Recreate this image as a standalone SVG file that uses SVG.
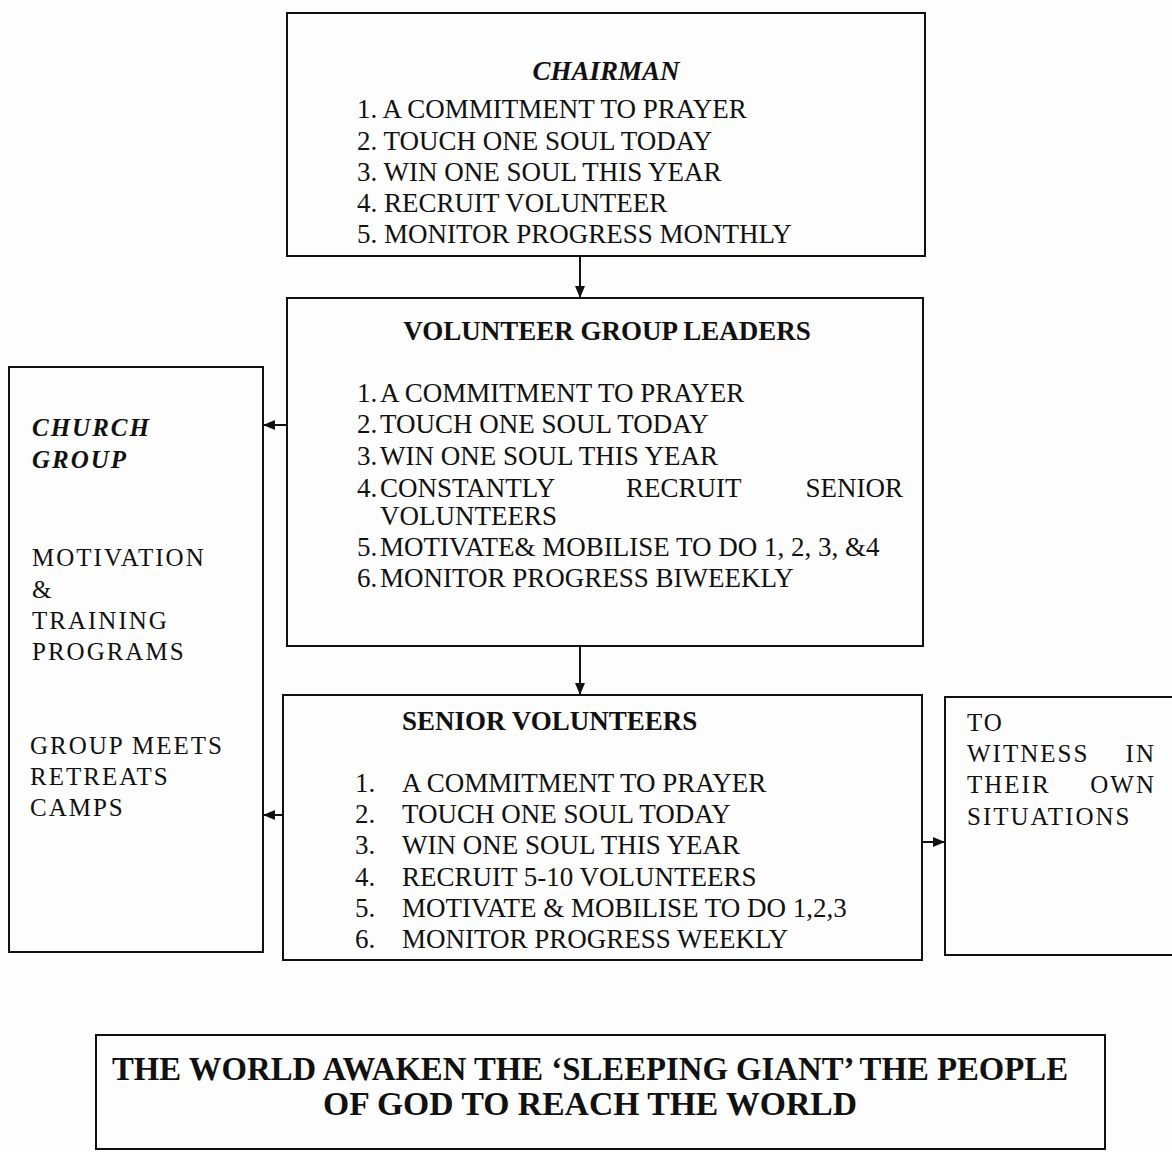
<svg xmlns="http://www.w3.org/2000/svg" width="1172" height="1152" viewBox="0 0 1172 1152">
<style>
.box{fill:none;stroke:#111;stroke-width:2}
.t{font-family:"Liberation Serif","Times New Roman",serif;font-size:27px;fill:#111}
.b{font-weight:bold}
.i{font-style:italic}
.w{font-family:"Liberation Serif","Times New Roman",serif;font-size:25px;fill:#111;letter-spacing:2px}
.big{font-family:"Liberation Serif","Times New Roman",serif;font-size:34px;font-weight:bold;fill:#111}
.conn{stroke:#111;stroke-width:2;fill:none}
</style>
<defs>
<marker id="ah" viewBox="0 0 12 10" refX="12" refY="5" markerWidth="12" markerHeight="10" markerUnits="userSpaceOnUse" orient="auto">
<path d="M0,0 L12,5 L0,10 Z" fill="#111"/>
</marker>
</defs>
<rect width="1172" height="1152" fill="#fdfdfd"/>
<g id="chairman">
<rect class="box" x="287" y="13" width="638" height="243"/>
<text class="t b i" x="606" y="80" text-anchor="middle">CHAIRMAN</text>
<text class="t" x="357" y="118">1. A COMMITMENT TO PRAYER</text>
<text class="t" x="357" y="150">2. TOUCH ONE SOUL TODAY</text>
<text class="t" x="357" y="181">3. WIN ONE SOUL THIS YEAR</text>
<text class="t" x="357" y="212">4. RECRUIT VOLUNTEER</text>
<text class="t" x="357" y="243">5. MONITOR PROGRESS MONTHLY</text>
</g>
<g id="volunteer-group-leaders">
<rect class="box" x="287" y="298" width="636" height="348"/>
<text class="t b" x="607" y="340" text-anchor="middle">VOLUNTEER GROUP LEADERS</text>
<text class="t" x="357" y="402">1.</text><text class="t" x="380" y="402">A COMMITMENT TO PRAYER</text>
<text class="t" x="357" y="433">2.</text><text class="t" x="380" y="433">TOUCH ONE SOUL TODAY</text>
<text class="t" x="357" y="465">3.</text><text class="t" x="380" y="465">WIN ONE SOUL THIS YEAR</text>
<text class="t" x="357" y="497">4.</text><text class="t" x="380" y="497">CONSTANTLY</text>
<text class="t" x="626" y="497">RECRUIT</text>
<text class="t" x="903" y="497" text-anchor="end">SENIOR</text>
<text class="t" x="380" y="525">VOLUNTEERS</text>
<text class="t" x="357" y="556">5.</text><text class="t" x="380" y="556">MOTIVATE&amp; MOBILISE TO DO 1, 2, 3, &amp;4</text>
<text class="t" x="357" y="587">6.</text><text class="t" x="380" y="587">MONITOR PROGRESS BIWEEKLY</text>
</g>
<g id="church-group">
<rect class="box" x="9" y="367" width="254" height="585"/>
<text class="w b i" x="32" y="436">CHURCH</text>
<text class="w b i" x="32" y="468">GROUP</text>
<text class="w" x="32" y="566">MOTIVATION</text>
<text class="w" x="32" y="598">&amp;</text>
<text class="w" x="32" y="629">TRAINING</text>
<text class="w" x="32" y="660">PROGRAMS</text>
<text class="w" x="30" y="754">GROUP MEETS</text>
<text class="w" x="30" y="785">RETREATS</text>
<text class="w" x="30" y="816">CAMPS</text>
</g>
<g id="senior-volunteers">
<rect class="box" x="283" y="695" width="639" height="265"/>
<text class="t b" x="402" y="730">SENIOR VOLUNTEERS</text>
<text class="t" x="355" y="792">1.</text><text class="t" x="402" y="792">A COMMITMENT TO PRAYER</text>
<text class="t" x="355" y="823">2.</text><text class="t" x="402" y="823">TOUCH ONE SOUL TODAY</text>
<text class="t" x="355" y="854">3.</text><text class="t" x="402" y="854">WIN ONE SOUL THIS YEAR</text>
<text class="t" x="355" y="886">4.</text><text class="t" x="402" y="886">RECRUIT 5-10 VOLUNTEERS</text>
<text class="t" x="355" y="917">5.</text><text class="t" x="402" y="917">MOTIVATE &amp; MOBILISE TO DO 1,2,3</text>
<text class="t" x="355" y="948">6.</text><text class="t" x="402" y="948">MONITOR PROGRESS WEEKLY</text>
</g>
<g id="witness">
<rect class="box" x="945" y="697" width="240" height="258"/>
<text class="w" x="967" y="731">TO</text>
<text class="w" x="967" y="762">WITNESS</text>
<text class="w" x="1156" y="762" text-anchor="end">IN</text>
<text class="w" x="967" y="793">THEIR</text>
<text class="w" x="1156" y="793" text-anchor="end">OWN</text>
<text class="w" x="967" y="825">SITUATIONS</text>
</g>
<g id="world">
<rect class="box" x="96" y="1035" width="1009" height="114"/>
<text class="big" x="590" y="1080" text-anchor="middle" textLength="956" lengthAdjust="spacingAndGlyphs">THE WORLD AWAKEN THE ‘SLEEPING GIANT’ THE PEOPLE</text>
<text class="big" x="590" y="1115" text-anchor="middle" textLength="534" lengthAdjust="spacingAndGlyphs">OF GOD TO REACH THE WORLD</text>
</g>
<g id="connectors">
<line class="conn" x1="580" y1="256" x2="580" y2="298" marker-end="url(#ah)"/>
<line class="conn" x1="580" y1="646" x2="580" y2="695" marker-end="url(#ah)"/>
<line class="conn" x1="287" y1="425" x2="263" y2="425" marker-end="url(#ah)"/>
<line class="conn" x1="283" y1="815" x2="263" y2="815" marker-end="url(#ah)"/>
<line class="conn" x1="922" y1="842" x2="945" y2="842" marker-end="url(#ah)"/>
</g>
</svg>
